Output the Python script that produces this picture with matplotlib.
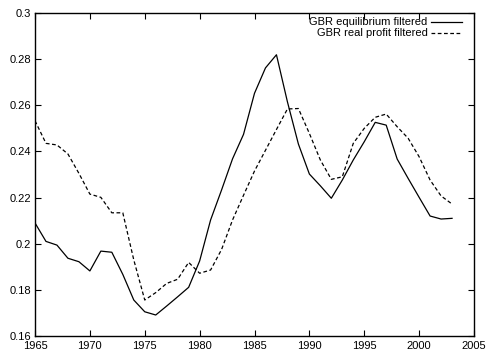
import matplotlib
matplotlib.use("Agg")
import matplotlib.pyplot as plt

years = list(range(1965, 2004))

# GBR equilibrium filtered (solid)
equilibrium = [0.209, 0.201, 0.1994, 0.1937, 0.1922, 0.1882, 0.1968, 0.1963, 0.1867, 0.1756,
               0.1705, 0.1691, 0.173, 0.177, 0.1811, 0.1925, 0.2103, 0.2233, 0.2368, 0.2474,
               0.2652, 0.2762, 0.2819, 0.2615, 0.2432, 0.2302, 0.2251, 0.2197, 0.2276, 0.2363,
               0.2442, 0.2526, 0.2514, 0.2367, 0.2283, 0.2201, 0.212, 0.2107, 0.211]

# GBR real profit filtered (dashed)
real_profit = [0.2533, 0.2435, 0.2428, 0.2389, 0.2305, 0.2215, 0.2201, 0.2134, 0.2134, 0.193,
               0.1756, 0.1788, 0.1828, 0.1846, 0.1919, 0.1872, 0.1886, 0.1975, 0.2103, 0.221,
               0.2315, 0.2405, 0.2495, 0.2584, 0.2586, 0.2478, 0.2363, 0.2279, 0.229, 0.2435,
               0.25, 0.2548, 0.2562, 0.2507, 0.2457, 0.2377, 0.2276, 0.2207, 0.2172]

xticks = [1965, 1970, 1975, 1980, 1985, 1990, 1995, 2000, 2005]
yticks = [0.16, 0.18, 0.2, 0.22, 0.24, 0.26, 0.28, 0.3]
ytick_labels = ["0.16", "0.18", "0.2", "0.22", "0.24", "0.26", "0.28", "0.3"]

plt.rcParams['font.family'] = ['Liberation Sans', 'DejaVu Sans']

fig = plt.figure(figsize=(4.87, 3.54), dpi=100)
ax = fig.add_axes([35 / 487, 1 - 336 / 354, 439 / 487, 323 / 354])

ax.plot(years, equilibrium, color='black', lw=0.9)
ax.plot(years, real_profit, color='black', lw=0.9, linestyle=(0, (3, 2)))

ax.set_xlim(1965, 2005)
ax.set_ylim(0.16, 0.3)
ax.set_xticks(xticks)
ax.set_yticks(yticks)
ax.set_yticklabels(ytick_labels)
ax.tick_params(direction='in', length=4, width=0.8, top=True, right=True, labelsize=8)
ax.tick_params(axis='x', pad=3.5)
ax.tick_params(axis='y', pad=3)
for s in ax.spines.values():
    s.set_linewidth(1.0)

# gnuplot-style key: right aligned text with sample line after it
labels = ["GBR equilibrium filtered", "GBR real profit filtered"]
styles = ['-', (0, (3, 2))]
rows = [0.972, 0.939]
for lab, ls, yy in zip(labels, styles, rows):
    ax.text(0.8945, yy, lab, transform=ax.transAxes, ha='right', va='center', fontsize=8)
    ax.plot([0.9014, 0.972], [yy, yy], transform=ax.transAxes, color='black',
            lw=0.9, linestyle=ls)

fig.savefig("out.png", dpi=100)
